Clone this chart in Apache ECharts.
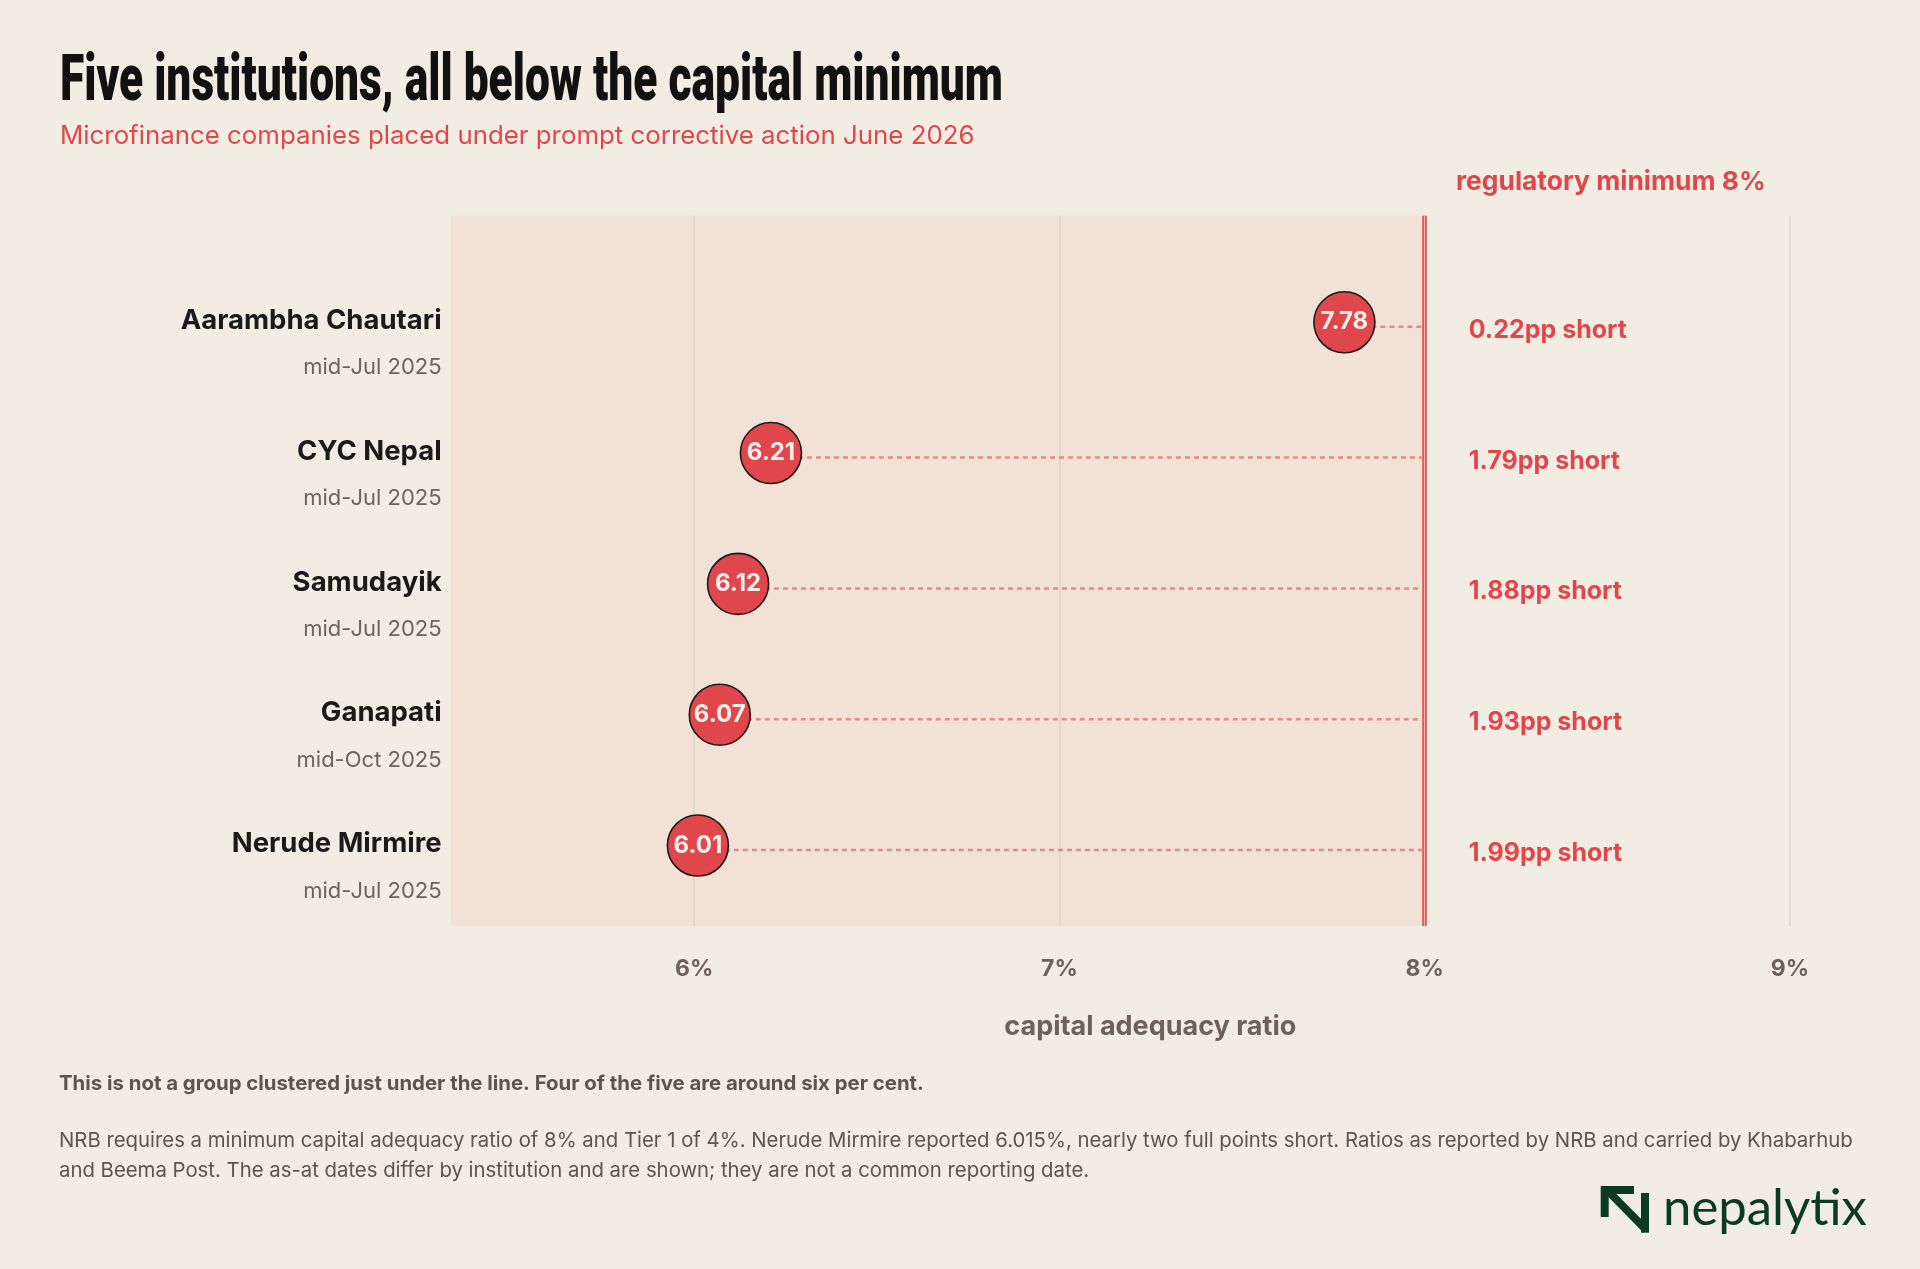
<!DOCTYPE html>
<html><head><meta charset="utf-8">
<script src="https://cdn.jsdelivr.net/npm/echarts@6/dist/echarts.min.js"></script>
<style>html,body{margin:0;padding:0;background:#f2ede3}#c{width:1920px;height:1269px}</style>
</head><body><div id="c"></div>
<script>
// ---- data ----
const institutions = ['Aarambha Chautari', 'CYC Nepal', 'Samudayik', 'Ganapati', 'Nerude Mirmire'];
const asAtDates = ['mid-Jul 2025', 'mid-Jul 2025', 'mid-Jul 2025', 'mid-Oct 2025', 'mid-Jul 2025'];
const carRatios = [7.78, 6.21, 6.12, 6.07, 6.01];
const regulatoryMinimum = 8;
const xTicks = [6, 7, 8, 9];
const xTickLabels = ['6%', '7%', '8%', '9%'];
const titleText = 'Five institutions, all below the capital minimum';
const subtitleText = 'Microfinance companies placed under prompt corrective action June 2026';
const thresholdLabel = 'regulatory minimum 8%';
const axisTitle = 'capital adequacy ratio';
const noteBold = 'This is not a group clustered just under the line. Four of the five are around six per cent.';
const noteLines = [
  'NRB requires a minimum capital adequacy ratio of 8% and Tier 1 of 4%. Nerude Mirmire reported 6.015%, nearly two full points short. Ratios as reported by NRB and carried by Khabarhub',
  'and Beema Post. The as-at dates differ by institution and are shown; they are not a common reporting date.'
];
const brand = 'nepalytix';

// ---- layout / style ----
const X_MIN = 5.333, X_MAX = 9;
const Y_MIN = -0.849, Y_MAX = 4.581;
const RED = '#e0474c';
const BODY = 'Inter, "Noto Sans", sans-serif';

const mctx = document.createElement('canvas').getContext('2d');
function measure(text, font) { mctx.font = font; return mctx.measureText(text).width; }
function fitSize(text, weight, family, target, base) {
  const w = measure(text, weight + ' ' + base + 'px ' + family);
  return base * target / w;
}

const titleFont = '900 64px Roboto';
const titleScale = 943 / measure(titleText, titleFont);
const subSize = fitSize(subtitleText, 400, 'Inter', 915, 24);
const regSize = fitSize(thresholdLabel, 700, 'Inter', 310, 26);
const axisNameSize = fitSize(axisTitle, 700, 'Inter', 292, 25);
const noteBoldSize = fitSize(noteBold, 700, 'Inter', 865, 19);
const noteSize = fitSize(noteLines[0], 400, 'Inter', 1794, 19);
const brandSize = fitSize(brand, 400, 'Lato', 204, 52);

const rows = carRatios.map((v, i) => [v, i]);

const chart = echarts.init(document.getElementById('c'), null, {renderer: 'canvas'});
chart.setOption({
  backgroundColor: '#f2ede3',
  animation: false,
  grid: {left: 450.6, right: 130, top: 215.7, bottom: 343},
  xAxis: {
    type: 'value', min: X_MIN, max: X_MAX,
    axisLine: {show: false}, axisTick: {show: false}, splitLine: {show: false},
    axisLabel: {
      customValues: xTicks,
      formatter: v => xTickLabels[xTicks.indexOf(Math.round(v))] || '',
      margin: 32, color: '#6b6258', fontFamily: BODY, fontWeight: 700, fontSize: 23
    },
    name: axisTitle, nameLocation: 'middle', nameGap: 87,
    nameTextStyle: {color: '#6b6258', fontFamily: BODY, fontWeight: 700, fontSize: axisNameSize, padding: [0, 0, 0, 60]}
  },
  yAxis: {
    type: 'value', inverse: true, min: Y_MIN, max: Y_MAX,
    axisLine: {show: false}, axisTick: {show: false}, splitLine: {show: false},
    axisLabel: {
      customValues: institutions.map((_, i) => i),
      margin: 9, align: 'right',
      formatter: v => {
        const i = Math.round(v);
        return '{e| }\n{n|' + institutions[i] + '}\n{d|' + asAtDates[i] + '}';
      },
      rich: {
        e: {fontSize: 2, lineHeight: 35},
        n: {fontSize: 27.5, fontWeight: 700, color: '#1a1a1a', fontFamily: BODY, lineHeight: 47, align: 'right'},
        d: {fontSize: 22, fontWeight: 400, color: '#6b645c', fontFamily: BODY, lineHeight: 47, align: 'right'}
      }
    }
  },
  graphic: [
    {type: 'text', x: 60, y: 84, scaleX: titleScale, style: {text: titleText, font: titleFont, fill: '#111111', align: 'left', verticalAlign: 'middle'}},
    {type: 'text', x: 60, y: 136, style: {text: subtitleText, fontFamily: BODY, fontWeight: 400, fontSize: subSize, fill: RED, align: 'left', verticalAlign: 'middle'}},
    {type: 'text', x: 1456, y: 182, style: {text: thresholdLabel, fontFamily: BODY, fontWeight: 700, fontSize: regSize, fill: RED, align: 'left', verticalAlign: 'middle'}},
    {type: 'text', x: 59, y: 1084, style: {text: noteBold, fontFamily: BODY, fontWeight: 700, fontSize: noteBoldSize, fill: '#5c554d', align: 'left', verticalAlign: 'middle'}},
    {type: 'text', x: 59, y: 1141, style: {text: noteLines[0], fontFamily: BODY, fontWeight: 400, fontSize: noteSize, fill: '#5c554d', align: 'left', verticalAlign: 'middle'}},
    {type: 'text', x: 59, y: 1171, style: {text: noteLines[1], fontFamily: BODY, fontWeight: 400, fontSize: noteSize, fill: '#5c554d', align: 'left', verticalAlign: 'middle'}},
    {type: 'group', children: [
      {type: 'polygon', shape: {points: [[1600.7, 1186], [1634, 1186], [1634, 1194], [1608.7, 1194], [1608.7, 1217], [1600.7, 1217]]}, style: {fill: '#0d3b22'}},
      {type: 'polygon', shape: {points: [[1603, 1191.5], [1608.5, 1186], [1649, 1227], [1643.5, 1232.7]]}, style: {fill: '#0d3b22'}},
      {type: 'rect', shape: {x: 1641, y: 1193, width: 8, height: 39.7}, style: {fill: '#0d3b22'}}
    ]},
    {type: 'text', x: 1663, y: 1209, style: {text: brand, fontFamily: 'Lato', fontWeight: 400, fontSize: brandSize, fill: '#0d3b22', align: 'left', verticalAlign: 'middle'}}
  ],
  series: [
    {
      type: 'scatter', name: 'band', z: 1, silent: true, symbolSize: 0, data: [],
      markArea: {silent: true, z: 1, itemStyle: {color: '#f2e1d6'}, data: [[{xAxis: X_MIN}, {xAxis: regulatoryMinimum}]]}
    },
    {
      type: 'scatter', name: 'gridlines', z: 2, silent: true, symbolSize: 0, data: [],
      markLine: {
        silent: true, z: 2, symbol: 'none', label: {show: false},
        lineStyle: {type: 'solid', width: 1.5, color: '#ddd4c8'},
        data: xTicks.filter(t => t !== regulatoryMinimum).map(t => ({xAxis: t}))
      }
    },
    {
      type: 'scatter', name: 'minimum', z: 3, silent: true, symbolSize: 0, data: [],
      markLine: {
        silent: true, z: 3, symbol: 'none', label: {show: false},
        data: [
          {xAxis: regulatoryMinimum, lineStyle: {color: RED, width: 4.5, type: 'solid'}},
          {xAxis: regulatoryMinimum, lineStyle: {color: '#f0b3aa', width: 1.3, type: 'solid'}}
        ]
      }
    },
    {
      type: 'custom', name: 'gap', z: 3, silent: true, data: rows,
      renderItem: (params, api) => {
        const a = api.coord([api.value(0), api.value(1)]);
        const b = api.coord([regulatoryMinimum, api.value(1)]);
        return {type: 'line', shape: {x1: a[0], y1: a[1], x2: b[0] - 2, y2: b[1]},
          style: {stroke: '#e78a85', lineWidth: 2.5, lineDash: [5, 4]}};
      }
    },
    {
      type: 'scatter', name: 'ratio', z: 4, data: rows, symbol: 'circle', symbolSize: 61,
      symbolOffset: [0, -4.5],
      itemStyle: {color: RED, borderColor: '#1d1a18', borderWidth: 1.6, opacity: 1},
      label: {show: true, position: 'inside', formatter: p => p.value[0].toFixed(2),
        color: '#fbefe8', fontFamily: BODY, fontWeight: 700, fontSize: 24}
    },
    {
      type: 'custom', name: 'shortfall', z: 4, silent: true,
      data: carRatios.map((v, i) => [regulatoryMinimum, i, regulatoryMinimum - v]),
      renderItem: (params, api) => {
        const b = api.coord([api.value(0), api.value(1)]);
        return {type: 'text', x: b[0] + 44, y: b[1] + 3.5,
          style: {text: api.value(2).toFixed(2) + 'pp short', fill: RED,
            font: '700 25px Inter', align: 'left', verticalAlign: 'middle'}};
      }
    }
  ]
});
</script></body></html>
